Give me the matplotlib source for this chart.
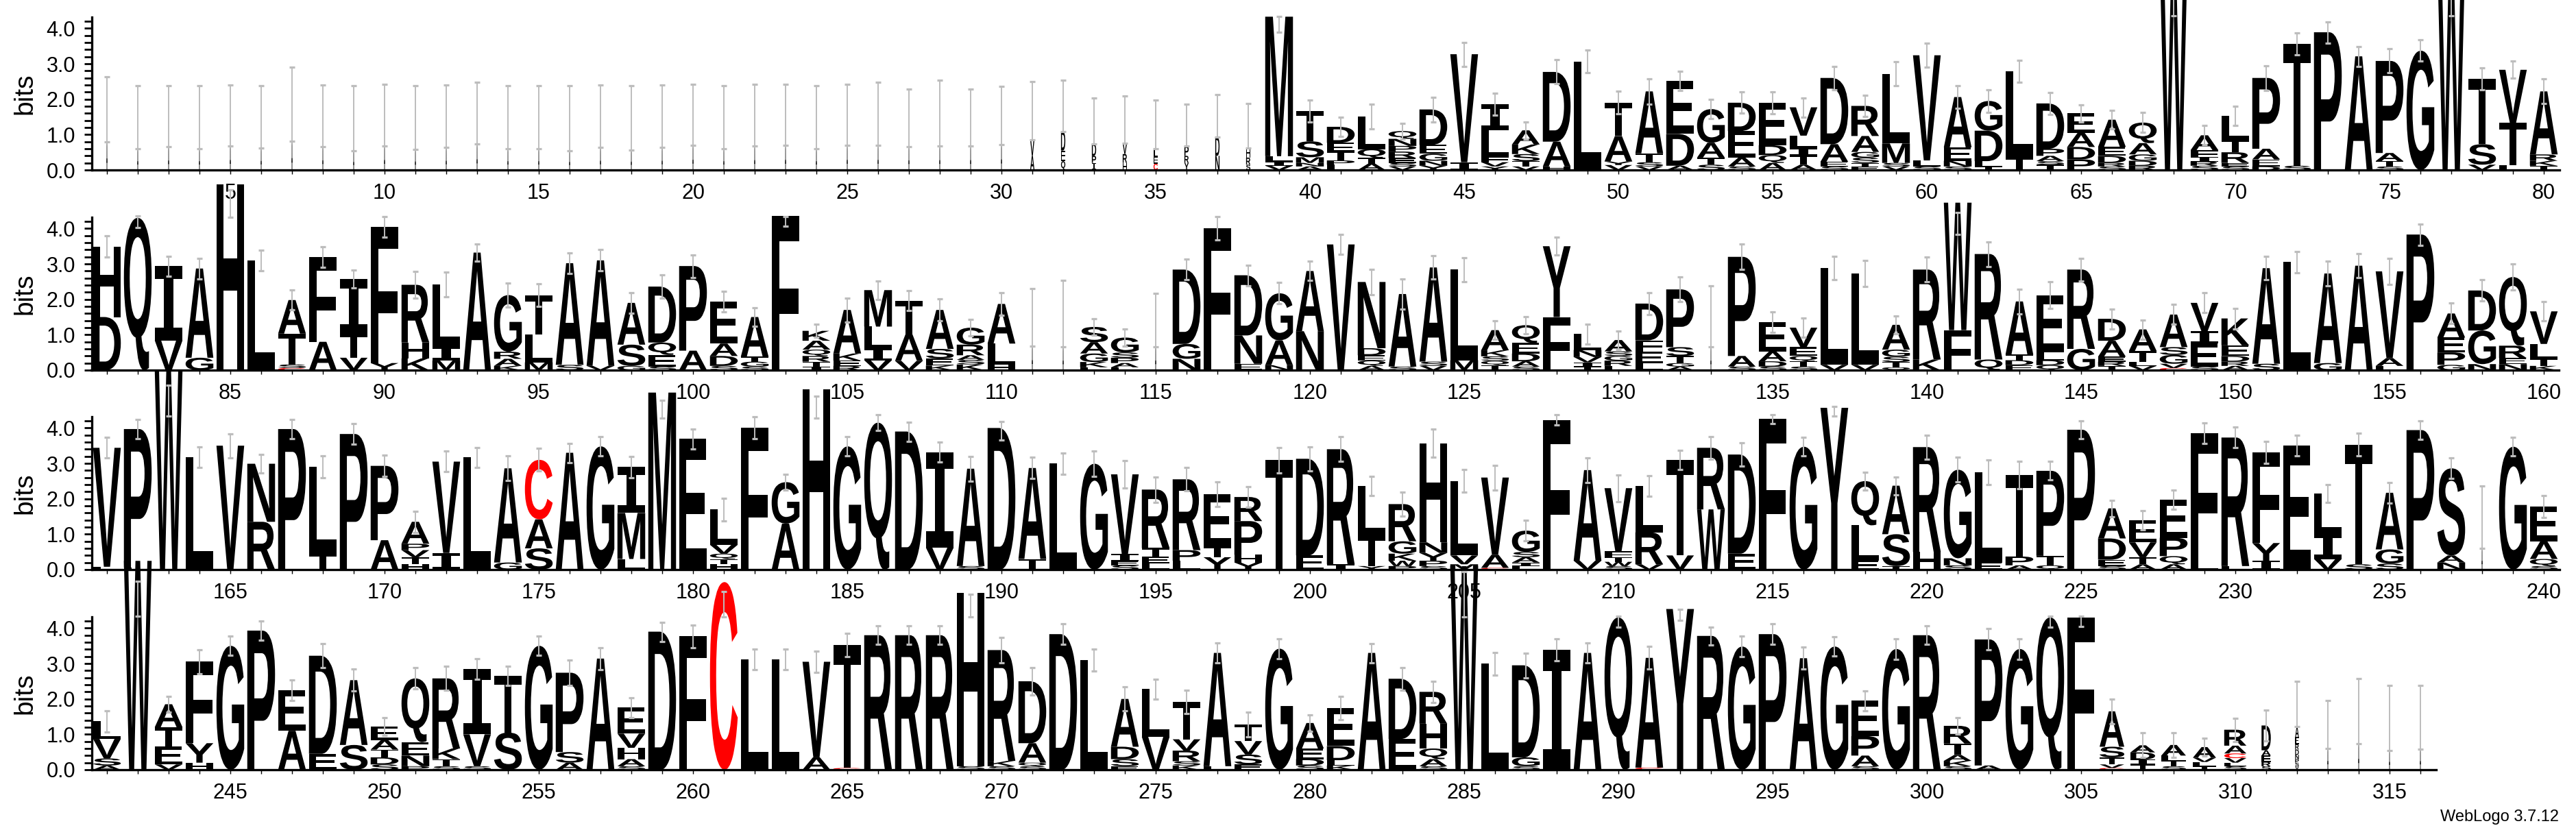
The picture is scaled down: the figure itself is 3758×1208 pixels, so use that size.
import matplotlib
matplotlib.use("Agg")
import matplotlib.pyplot as plt
from matplotlib.textpath import TextPath
from matplotlib.font_manager import FontProperties
from matplotlib.patches import PathPatch
from matplotlib.transforms import Affine2D
from matplotlib.ticker import MultipleLocator

plt.rcParams['font.family'] = ['Liberation Sans', 'DejaVu Sans']

# each column: letters bottom -> top, "<letter><bits>"
ROW1 = [
    "A.79", "A.6", "A.65", "A.6", "A.68", "A.62", "A.81", "A.66", "A.55", "A.68",
    "A.58", "A.63", "A.73", "A.6", "A.6", "A.55", "A.63", "A.57", "A.63", "A.7",
    "A.6", "A.67", "A.69", "A.6", "A.69", "A.69", "A.66", "A.67", "A.67", "A.72",
    "A.4 V.46", "Q.25 E.3 D.53", "I.2 P.2 D.34", "H.2 R.25 V.3", "C.18 E.2 L.22",
    "Y.2 R.2 P.27", "N.4 D.53", "S.15 R.2 H.27", "V.12 I.12 L.15 M3.94", "A.1 N.1 M.16 S.45 T.85",
    "L.15 P.12 T.25 E.25 D.45", "A.18 T.16 Q.25 L.92", "V.1 S.1 E.14 R.18 P.16 N.2 Q.22",
    "Y.12 N.14 G.2 E.25 D1.0", "I.22 V3.05", "Y.1 V.12 F.16 L.74 I.74", "V.1 T.15 S.2 K.27 A.4",
    "H.1 A.7 D1.97", "L3.06", "V.14 Y.1 A.72 T.94",
    "V.1 S.12 T.25 A1.75", "A.12 D.9 E1.5", "S.15 T.2 A.42 G.95", "S.1 A.25 E.75 D.8",
    "A.2 Q.22 D.28 E1.2", "A.15 T.25 I.22 L.35 V.8", "S.1 E.13 A.5 D1.87",
    "E.1 T.1 S.15 G.16 A.45 R.85", "V.1 S.1 M.55 L1.97", "S.1 L.17 V2.97",
    "S.1 N.16 E.38 A1.42", "T.1 L.15 D.86 G.84", "T.35 L2.44", "T.15 S.1 A.15 P.2 D1.28",
    "P.3 D.35 A.4 E.55", "S.1 R.1 D.2 E.25 A.77", "R.12 D.14 G.18 A.32 Q.58", "W5.9",
    "S.12 R.12 I.12 F.2 A.42", "S.1 E.1 R.3 T.35 L.68",
    "D.1 E.2 A.3 P2.0", "S.12 T3.45", "P3.89", "A3.21", "S.1 T.15 A.23 P2.6",
    "G3.37", "W5.9", "V.15 S.58 T1.84", "L.13 T1.2 V1.5", "T.12 K.14 R.18 A1.78",
]
ROW2 = [
    "D1.5 H1.99", "Q4.3", "V.84 I2.1", "G.35 A2.52", "H5.25", "L3.1", "C.06 S.1 T.87 A.95",
    "A.8 F2.39", "V.35 T.68 I1.54", "Y.2 F3.85",
    "K.33 H.45 R1.63", "M.27 I.4 L1.75", "A3.32", "K.12 A.2 R.2 G1.6", "M.22 L.78 T1.12",
    "S.15 A2.87", "V.12 A2.98", "G.12 S.6 A1.18", "S.1 E.33 Q.35 D1.58", "A.55 P2.39",
    "S.12 D.28 A.35 E1.19", "S.1 G.14 T.14 A1.12", "F4.35", "I.1 T.14 R.16 Q.18 A.25 K.28",
    "R.12 E.15 K.2 A1.23", "V.28 I.33 L.62 M1.03", "V.26 A.75 T.95", "K.13 E.2 S.27 A1.1",
    "K.16 S.13 A.13 R.3 G.48", "H.15 L.6 A1.12",
    "A.68", "A.65", "L.08 K.15 G.24 A.32 S.43", "L.08 A.12 P.15 S.15 G.42", "A.66",
    "N.32 G.42 D2.1", "L.15 F3.85", "E.18 N.8 D1.7", "N.14 A.7 G1.33", "N1.1 A1.7",
    "V3.55", "A.12 Q.15 E.15 D.2 N1.87", "S.1 A2.05", "V.12 S.12 A2.66", "M.28 L2.56",
    "T.14 Q.12 S.13 K.17 A.57", "S.1 A.15 D.22 E.3 Q.5", "F1.5 Y2.0", "T.1 I.12 V.15 N.2 L.45",
    "L.12 R.15 G.13 S.13 A.32",
    "L.2 E.32 F.32 D1.04", "A.1 G.1 T.2 S.25 P1.63", "A.65", "S.1 A.3 P2.8", "S.1 D.15 A.28 E.82",
    "S.1 T.15 Q.15 E.25 V.55", "V.15 L2.73", "V.15 L2.58", "Q.08 T.15 S.15 G.2 A.7", "K.3 R2.54",
    "F1.13 W3.6", "Q.3 R2.98", "E.14 D.14 T.16 A1.5", "Q.14 D.14 L.22 E1.62", "G.6 R2.24",
    "T.12 R.12 E.14 A.45 D.62", "V.12 L.12 T.3 A.61", "C.06 V.12 G.25 S.22 A.92",
    "S.1 E.65 I.35 V.8", "A.12 R.12 D.16 E.3 K.76",
    "S.18 A2.7", "L3.05", "G.2 A2.53", "A2.95", "L.12 A.22 V2.45", "P3.83",
    "G.15 P.35 E.42 A.68", "N.17 G.95 D1.13", "N.17 E.17 R.35 Q1.94", "K.12 T.2 L.42 V.92",
]
ROW3 = [
    "L.08 V3.36", "L.05 P3.92", "W5.63", "L3.18", "V3.5", "R1.35 N1.64", "P3.97", "T.45 L2.46",
    "P3.83", "A.83 P2.1",
    "H.15 T.2 V.2 P.18 A.62", "I.47 V2.58", "L3.17", "G.2 A2.66", "S.6 A.82 C1.68", "A3.3",
    "G3.48", "L.3 M1.3 I1.3", "M5.0", "E3.69",
    "H.15 T.15 Q.15 V.25 L1.0", "F4.0", "A1.3 G1.17", "H5.1", "G3.48", "Q4.15", "D3.9",
    "V.62 I2.7", "S.1 A2.75", "D4.0",
    "T.3 A2.57", "L3.0", "G2.99", "S.12 E.12 I.2 V2.25", "L.18 E.18 T.25 R1.65", "L.25 P.3 R2.0",
    "Y.35 T.3 E1.48", "Y.2 H.22 P.95 R.68", "T3.09", "E.4 D2.73",
    "I.15 R3.25", "Y.1 T.85 L1.42", "P.1 W.15 K.2 G.35 R1.05", "S.1 P.15 Y.22 N.3 H2.8",
    "M.15 V.25 L2.1", "C.05 A.37 V2.18", "L.1 I.1 A.15 S.15 G.6", "F4.23", "V.25 A2.56",
    "S.1 W.12 T.12 F.18 V1.78",
    "V.15 R.9 L1.31", "V.4 T2.7", "W1.7 R1.74", "E.45 D2.8", "F4.25", "G3.47", "Y4.57",
    "E.25 L1.0 Q1.25", "T.1 S.9 A1.37", "H.5 R2.96",
    "S.12 N.2 G2.5", "E.2 L2.55", "A.12 P.25 T2.3", "Q.12 T.27 P2.4", "P3.95", "S.1 E.18 D.6 A.85",
    "A.15 T.2 V.42 E.63", "A.15 Q.23 P.52 E1.07", "L.27 F3.59", "L.1 R3.63",
    "I.25 Y.5 F2.57", "E3.5", "V.3 I.72 L1.13", "S.15 T3.38", "S.17 G.4 A1.6", "P3.94",
    "N.2 A.2 S2.46", "A.6", "G3.47", "S.1 Q.2 A.5 E.98",
]
ROW4 = [
    "A.12 S.2 V.55 L.5", "W5.9", "V.15 E.5 T.55 A.65", "H.2 Y.55 F2.3", "G3.5", "P3.93",
    "A1.1 E1.15", "E.45 D2.77", "S.7 A1.83", "S.15 D.2 T.22 A.27 E.38",
    "P.1 N.3 E.38 Q1.8", "S.1 T.2 K.3 R1.98", "S.1 V.9 I1.85", "S1.05 T1.6", "G3.5",
    "A.2 S.3 P2.24", "A3.14", "S.1 A.2 H.32 V.4 E.74", "D3.9", "F3.77",
    "C5.3", "L3.12", "L3.12", "A.35 V2.7", "C.05 T3.47", "R3.8", "R3.8", "R3.8", "S.1 H4.9",
    "S.1 K.15 R3.13",
    "S.1 Q.1 A.55 D1.75", "D3.83", "L3.1", "E.1 S.2 D.35 A1.35", "V.93 L1.35",
    "K.12 S.12 R.3 V.32 T1.06", "L.1 A3.2", "E.15 S.28 V.38 T.47", "G3.42", "S.12 D.18 E.3 A.72",
    "K.12 L.15 D.4 E1.07", "A3.3", "E.87 D1.7", "S.1 A.2 Q.3 H.7 R.9", "W5.75", "L3.0",
    "S.1 G.25 D2.6", "I3.38", "A3.3", "Q4.3",
    "C.06 A3.1", "Y4.54", "R3.78", "G3.48", "P3.83", "A3.15", "G3.48", "S.1 A.3 P.55 E1.0",
    "G3.41", "R3.8",
    "S.1 K.15 A.17 T.32 R.5", "A.12 P3.56", "G3.41", "Q4.3", "F4.3", "C.05 V.1 T.2 S.3 A1.0",
    "T.15 I.14 D.2 A.2", "S.1 T.15 L.15 A.3", "T.1 L.12 V.12 A.3", "S.1 L.1 V.13 C.13 A.22 R.45",
    "S.1 R.12 E.18 A.15 D.7", "V.1 S.1 P.1 N.12 D.15 R.15 E.2 A.3", "A.6", "A.74", "A.54", "A.59",
]

# error bar half widths (bar centred on stack top)
ERR1 = [0] * 39 + [
    .31, .28, .35, .22, .35, .34, .31, .24, .34, .32, .32, .36, .27, .27, .3, .31, .27, .33, .3, .34,
    .34, .32, .32, .31, .31, .24, .26, .28, 0, .27, .28, .35, .31, .3, .28, .34, .3, 0, .31, .24, .35,
]
ERR2 = [
    .3, 0, .28, .29, 0, .29, .28, .29, .25, .29, .38, .34, .24, .34, .31, .29, .3, .29, .33, .32,
    .29, .27, 0, .18, .34, .26, .28, .31, .23, .32, 0, 0, .24, .24, 0, .29, .33, .29, .3, .27,
    .28, .36, .42, .33, .34, .26, .24, .25, .28, .26, .31, .35, 0, .36, .29, .27, .33, .37, .25, .35,
    0, .35, .35, .37, .32, .28, .27, .28, .28, .29, .33, .3, .34, .34, .37, .3, .29, .3, .37, .27,
]
ERR3 = [
    .29, .27, 0, .29, .34, .26, .27, .31, .29, .3, .3, .29, .28, .35, .32, .27, .27, .3, 0, .28,
    .32, .31, .23, 0, .27, .22, .27, .28, .35, 0, .3, .3, .35, .38, .36, .33, .35, .29, .36, .34,
    .35, .27, .34, .39, .32, .35, .29, .14, .35, .38, .29, .27, .32, .33, .13, .26, 0, .25, .25, .34,
    .35, .35, .38, .26, .26, .23, .27, .27, .29, .29, .31, .29, .26, .32, .29, .27, .29, 0, .26, .31,
]
ERR4 = [
    .3, 0, .23, .34, .27, .28, .29, .34, .31, .26, .3, .34, .29, .27, .27, .35, .31, .28, .27, .32,
    0, .29, .29, .3, .33, .26, .26, .26, 0, .35, .38, .29, .31, .34, .28, .33, .28, .35, .28, .23,
    .33, .27, .32, .3, 0, .32, .35, .31, .28, 0, .32, 0, .25, .29, .29, .31, .27, .28, .29, .26,
    .23, .3, .29, 0, 0, .35, .35, .35, .26, .33, .44, 0, 0, 0, 0, 0,
]

# bars read directly as (low, high) bits
BAR_LIMITS = {
    1: (.79, 2.64), 2: (.6, 2.38), 3: (.65, 2.38), 4: (.6, 2.38), 5: (.68, 2.4), 6: (.62, 2.38),
    7: (.81, 2.9), 8: (.66, 2.4), 9: (.55, 2.38), 10: (.68, 2.42), 11: (.58, 2.38), 12: (.63, 2.4),
    13: (.73, 2.47), 14: (.6, 2.38), 15: (.6, 2.38), 16: (.55, 2.38), 17: (.63, 2.4), 18: (.57, 2.38),
    19: (.63, 2.4), 20: (.7, 2.42), 21: (.6, 2.38), 22: (.67, 2.42), 23: (.69, 2.42), 24: (.6, 2.38),
    25: (.69, 2.42), 26: (.69, 2.48), 27: (.66, 2.28), 28: (.67, 2.53), 29: (.67, 2.28), 30: (.72, 2.36),
    31: (.86, 2.5), 32: (1.08, 2.53), 33: (.74, 2.03), 34: (.75, 2.09), 35: (.6, 1.97), 36: (.67, 1.86),
    37: (.93, 2.13), 38: (.62, 1.88), 39: (3.9, 4.34), 68: (4.35, 5.2), 77: (4.35, 5.2),
    82: (4.03, 4.35), 85: (4.32, 5.1), 103: (4.06, 4.34), 111: (.68, 2.31), 112: (.65, 2.54),
    115: (.66, 2.17), 133: (.65, 2.39), 141: (3.84, 4.45), 163: (4.33, 5.2), 179: (4.28, 4.79),
    184: (4.28, 4.89), 190: (3.65, 4.18), 217: (4.33, 4.6), 238: (.6, 2.37), 242: (4.33, 5.32),
    261: (4.32, 5.04), 269: (4.32, 4.96), 285: (4.32, 5.6), 290: (4.03, 4.33), 292: (4.22, 4.54),
    304: (4.03, 4.33), 305: (4.05, 4.33), 312: (1.22, 2.5), 313: (.6, 1.96), 314: (.74, 2.57),
    315: (.54, 2.38), 316: (.59, 2.38),
}

# fraction of the column width used by the stack (gappy columns are narrow)
THIN_COLUMNS = list(range(1, 31)) + [111, 112, 115, 133, 238, 313, 314, 315, 316]
NARROW_COLUMNS = {31: .14, 32: .14, 33: .14, 34: .14, 35: .14, 36: .14, 37: .14, 38: .14,
                  306: .8, 307: .8, 308: .8, 309: .75, 310: .72, 311: .3, 312: .12}

ROW_STARTS = [1, 81, 161, 241]
ROWS = [ROW1, ROW2, ROW3, ROW4]
ERRS = [ERR1, ERR2, ERR3, ERR4]
LETTER_COLORS = {'C': '#ff0000'}

W, H = 3758, 1208
BASELINES = [248, 540, 831, 1123]
PX_PER_POS = 45.0
PX_PER_BIT = 51.65
YMAX = 4.32

FP = FontProperties(family='Liberation Sans', weight='bold')
FP_I = FontProperties(family='DejaVu Sans Mono', weight='bold')  # "I" with bars
_glyphs = {}


def draw_letter(ax, ch, x0, y0, w, h):
    if ch not in _glyphs:
        p = TextPath((0, 0), ch, size=1, prop=FP_I if ch == 'I' else FP)
        _glyphs[ch] = (p, p.get_extents())
    p, ext = _glyphs[ch]
    tr = Affine2D().translate(-ext.x0, -ext.y0).scale(w / ext.width, h / ext.height).translate(x0, y0)
    ax.add_patch(PathPatch(tr.transform_path(p), fc=LETTER_COLORS.get(ch, 'black'),
                           ec='none', lw=0, clip_on=False, zorder=2))


fig = plt.figure(figsize=(W / 100, H / 100), dpi=100)

for r in range(4):
    start = ROW_STARTS[r]
    stacks = ROWS[r]
    n = len(stacks)
    end = start + n - 1
    yb = BASELINES[r]
    ax = fig.add_axes([133.5 / W, (H - yb) / H, n * PX_PER_POS / W, YMAX * PX_PER_BIT / H])
    ax.set_xlim(start - 0.5, end + 0.5)
    ax.set_ylim(0, YMAX)
    for s in ['top', 'right']:
        ax.spines[s].set_visible(False)
    for s in ['left', 'bottom']:
        ax.spines[s].set_linewidth(2.4)

    xs, lo, hi = [], [], []
    for i, col in enumerate(stacks):
        pos = start + i
        if pos in THIN_COLUMNS:
            frac = 0.045
        else:
            frac = NARROW_COLUMNS.get(pos, 0.9)
        y = 0.0
        for tok in col.split():
            h = float(tok[1:])
            draw_letter(ax, tok[0], pos - frac / 2, y, frac, h)
            y += h
        if pos in BAR_LIMITS:
            a, b = BAR_LIMITS[pos]
        else:
            e = ERRS[r][i]
            a, b = y - e, y + e
        xs.append(pos)
        lo.append(a)
        hi.append(b)

    ax.vlines(xs, lo, hi, colors='#bdbdbd', lw=1.4, zorder=4, clip_on=False)
    ax.hlines(lo + hi, [x - 0.09 for x in xs] * 2, [x + 0.09 for x in xs] * 2,
              colors='#bdbdbd', lw=2.3, zorder=4, clip_on=False)

    ax.set_yticks([0, 1, 2, 3, 4])
    ax.set_yticklabels(['0.0', '1.0', '2.0', '3.0', '4.0'])
    ax.yaxis.set_minor_locator(MultipleLocator(0.2))
    ax.tick_params(axis='y', which='both', direction='out', length=8, width=2, labelsize=22, pad=9)
    ax.set_xticks(range(start, end + 1))
    ax.set_xticklabels([str(p) if p % 5 == 0 else '' for p in range(start, end + 1)])
    ax.tick_params(axis='x', direction='out', length=4.5, width=1, labelsize=22, pad=9)

    fig.text(36 / W, 1 - (yb - YMAX * PX_PER_BIT / 2) / H, 'bits', rotation=90,
             ha='center', va='center', fontsize=28)

fig.text(3733 / W, 1 - 1192 / H, 'WebLogo 3.7.12', ha='right', va='center', fontsize=17)

fig.savefig('out.png', dpi=100)
